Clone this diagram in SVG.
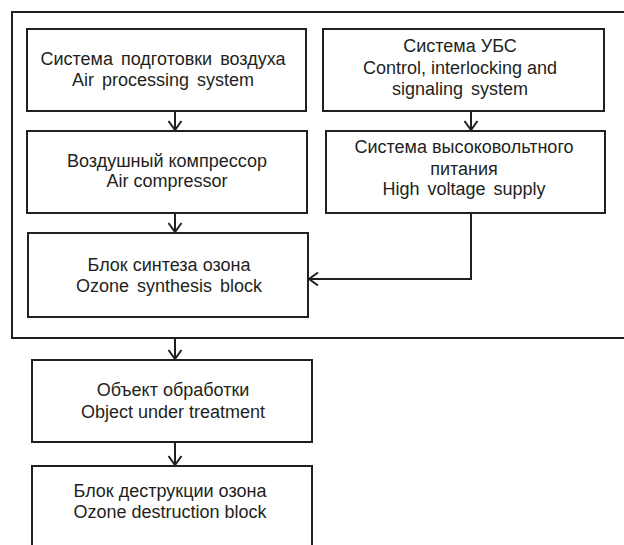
<svg xmlns="http://www.w3.org/2000/svg" width="624" height="545" viewBox="0 0 624 545">
<defs>
<style>
.box{fill:#fff;stroke:#231f20;stroke-width:2}
.frame{fill:none;stroke:#231f20;stroke-width:2}
.edge{fill:none;stroke:#231f20;stroke-width:2;marker-end:url(#arr)}
text{font-family:"Liberation Sans",Arial,sans-serif;font-size:18px;fill:#231f20;text-anchor:middle}
.ws{word-spacing:3px}
</style>
<marker id="arr" markerUnits="userSpaceOnUse" viewBox="-12 -9 14 18" refX="0" refY="0" markerWidth="14" markerHeight="18" orient="auto" overflow="visible">
<path d="M-9,-6.5 L0,0 L-9,6.5" fill="none" stroke="#231f20" stroke-width="2"/>
</marker>
</defs>
<rect width="624" height="545" fill="#fff"/>
<path class="frame" d="M630,12 H12 V338 H630"/>
<g id="air-processing">
<rect class="box" x="27" y="29" width="279" height="82"/>
<text x="163" y="65" class="ws">Система подготовки воздуха</text>
<text x="163" y="86" class="ws">Air processing system</text>
</g>
<g id="air-compressor">
<rect class="box" x="27" y="131" width="280" height="82"/>
<text x="167" y="167">Воздушный компрессор</text>
<text x="167" y="187">Air compressor</text>
</g>
<g id="ozone-synthesis">
<rect class="box" x="28" y="233" width="280" height="84"/>
<text x="169" y="271">Блок синтеза озона</text>
<text x="169" y="292" class="ws">Ozone synthesis block</text>
</g>
<g id="control-system">
<rect class="box" x="323" y="29" width="281" height="82"/>
<text x="460" y="52">Система УБС</text>
<text x="460" y="74">Control, interlocking and</text>
<text x="460" y="95" class="ws">signaling system</text>
</g>
<g id="high-voltage">
<rect class="box" x="326" y="131" width="279" height="82"/>
<text x="464" y="153">Система высоковольтного</text>
<text x="464" y="175">питания</text>
<text x="464" y="195" class="ws">High voltage supply</text>
</g>
<g id="object">
<rect class="box" x="32" y="360" width="280" height="82"/>
<text x="173" y="396">Объект обработки</text>
<text x="173" y="418">Object under treatment</text>
</g>
<g id="ozone-destruction">
<path class="box" d="M32,546 V466 H312 V546"/>
<text x="170" y="497">Блок деструкции озона</text>
<text x="170" y="518">Ozone destruction block</text>
</g>
<g id="connectors">
<path class="edge" d="M175,112 V130"/>
<path class="edge" d="M175,214 V232"/>
<path class="edge" d="M471,112 V130"/>
<path class="edge" d="M471,214 V279 H309"/>
<path class="edge" d="M175,339 V359"/>
<path class="edge" d="M175,443 V465"/>
</g>
</svg>
